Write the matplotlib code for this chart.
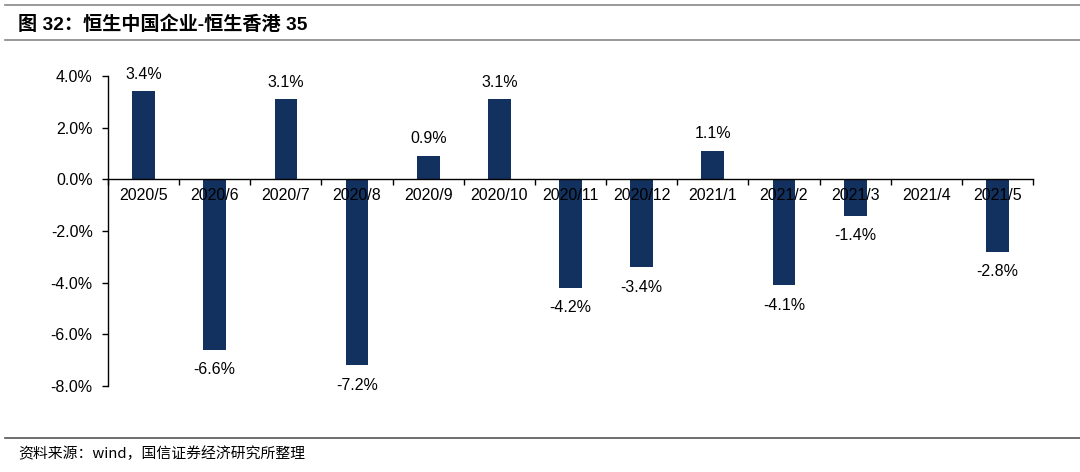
import numpy as np
import matplotlib.pyplot as plt
from matplotlib.lines import Line2D
from matplotlib.ticker import FuncFormatter, FixedLocator

plt.rcParams['font.family'] = ['Liberation Sans', 'Noto Sans CJK SC', 'DejaVu Sans']

months = ["2020/5", "2020/6", "2020/7", "2020/8", "2020/9", "2020/10", "2020/11",
          "2020/12", "2021/1", "2021/2", "2021/3", "2021/4", "2021/5"]
spread = [3.4, -6.6, 3.1, -7.2, 0.9, 3.1, -4.2, -3.4, 1.1, -4.1, -1.4, None, -2.8]

title = "图 32：恒生中国企业-恒生香港 35"
source = "资料来源：wind，国信证券经济研究所整理"

bar_color = "#12315e"
fs = 11.5

fig = plt.figure(figsize=(10.8, 4.72), dpi=100)
ax = fig.add_axes([0.1, 0.182, 0.8565, 0.657])
ax.set_axisbelow(False)

x = np.arange(len(months))
vals = np.array([np.nan if v is None else v for v in spread])
ax.bar(x, np.nan_to_num(vals), width=0.32, color=bar_color, zorder=1)

for xi, v in zip(x, vals):
    if np.isnan(v):
        continue
    if v >= 0:
        ax.annotate(f"{v:.1f}%", (xi, v), xytext=(0, 7), textcoords="offset points",
                    ha="center", va="bottom", fontsize=fs)
    else:
        ax.annotate(f"{v:.1f}%", (xi, v), xytext=(0, -9), textcoords="offset points",
                    ha="center", va="top", fontsize=fs)

ax.set_xlim(-0.5, len(months) - 0.5)
ax.set_ylim(-8, 4)
ax.set_yticks(np.arange(-8, 4.1, 2))
ax.yaxis.set_major_formatter(FuncFormatter(lambda v, p: f"{v:.1f}%"))
ax.tick_params(axis="y", labelsize=fs, length=4, width=1, direction="out", pad=7)

ax.spines["top"].set_visible(False)
ax.spines["right"].set_visible(False)
ax.spines["bottom"].set_position(("data", 0))
ax.spines["left"].set_linewidth(1)
ax.spines["bottom"].set_linewidth(1)

ax.set_xticks(x)
ax.set_xticklabels(months)
ax.tick_params(axis="x", length=0, labelsize=fs, pad=6)
ax.xaxis.set_minor_locator(FixedLocator(np.arange(-0.5, len(months), 1)))
ax.tick_params(axis="x", which="minor", length=4, width=1, direction="out")

# header / footer rules
fig.add_artist(Line2D([0.005, 1.0], [0.989, 0.989], color="#888888", lw=1.2))
fig.add_artist(Line2D([0.005, 1.0], [0.915, 0.915], color="#888888", lw=1.2))
fig.add_artist(Line2D([0.005, 1.0], [0.072, 0.072], color="#555555", lw=1.2))

fig.text(0.017, 0.947, title, fontsize=13.8, fontweight="bold", va="center", ha="left")
fig.text(0.017, 0.038, source, fontsize=10.7, va="center", ha="left",
         family=["Noto Sans CJK SC", "DejaVu Sans"])

fig.savefig("out.png", dpi=100)
